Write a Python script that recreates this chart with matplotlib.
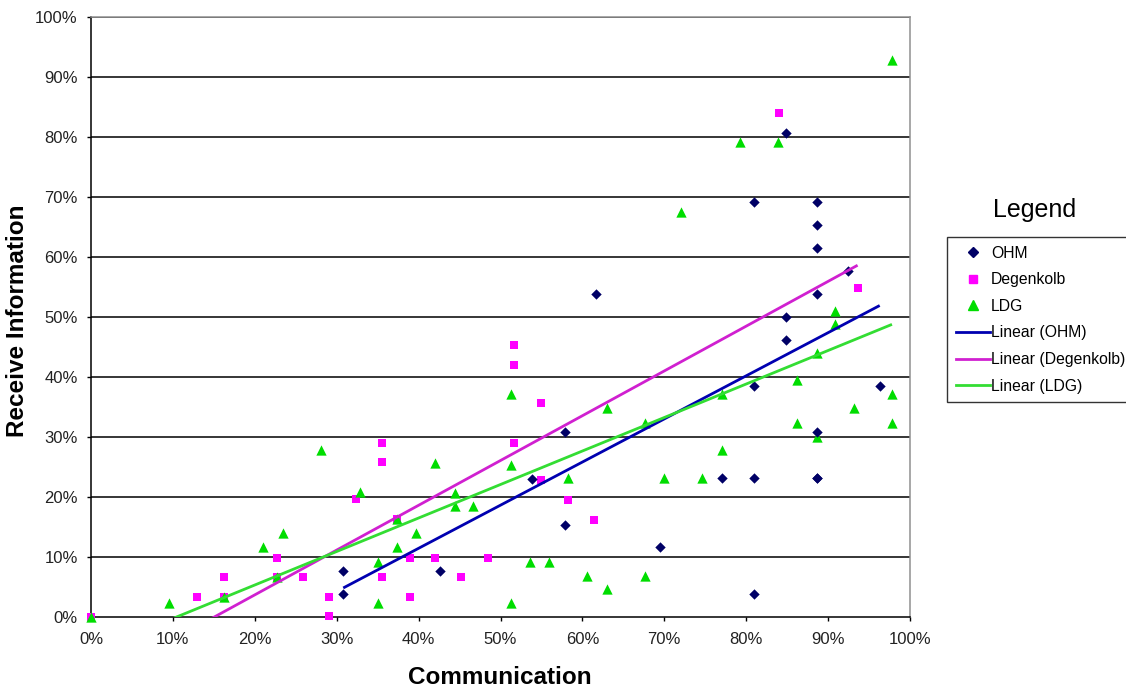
import numpy as np
import matplotlib
matplotlib.use("Agg")
import matplotlib.pyplot as plt
from matplotlib.lines import Line2D

plt.rcParams['font.family'] = ['Liberation Sans', 'DejaVu Sans']

# ---- data (percent) ----
ohm_x = [30.8, 30.8, 42.6, 53.9, 57.9, 57.9, 61.7, 69.5, 77.1, 81.0, 81.0, 81.0,
         81.0, 84.8, 84.8, 84.8, 88.7, 88.7, 88.7, 88.7, 88.7, 88.7, 88.7, 92.4, 96.3]
ohm_y = [7.6, 3.9, 7.7, 23.0, 30.8, 15.4, 53.9, 11.7, 23.1, 23.1, 38.5, 3.9,
         69.1, 80.7, 50.0, 46.2, 69.1, 65.3, 61.5, 53.9, 30.9, 23.1, 23.1, 57.7, 38.5]

deg_x = [0.0, 13.0, 16.3, 16.3, 22.7, 22.7, 25.9, 29.1, 29.1, 32.3, 35.5, 35.5,
         35.5, 37.4, 38.9, 38.9, 42.0, 45.2, 48.5, 51.7, 51.7, 51.7, 55.0, 55.0, 58.3,
         61.4, 84.0, 93.6]
deg_y = [0.0, 3.4, 6.7, 3.4, 9.9, 6.7, 6.7, 3.3, 0.2, 19.6, 29.0, 25.9,
         6.7, 16.4, 9.8, 3.4, 9.8, 6.7, 9.8, 45.3, 42.0, 29.0, 35.6, 22.8, 19.5,
         16.2, 84.0, 54.9]

ldg_x = [0.0, 9.5, 16.3, 21.0, 22.7, 23.4, 28.1, 32.8, 35.0, 35.0, 37.4, 37.4,
         39.7, 42.0, 44.4, 44.4, 46.7, 51.3, 51.3, 51.3, 53.6, 55.9, 58.3, 60.6,
         63.0, 63.0, 67.6, 67.6, 70.0, 72.1, 74.6, 77.0, 77.0, 79.3, 83.9, 86.2,
         86.2, 88.6, 88.6, 90.9, 90.9, 93.2, 97.8, 97.8, 97.8]
ldg_y = [0.0, 2.4, 3.4, 11.6, 6.7, 14.0, 27.8, 20.9, 9.2, 2.3, 11.6, 16.4,
         14.0, 25.6, 20.7, 18.5, 18.5, 37.1, 25.4, 2.3, 9.2, 9.2, 23.1, 6.9,
         4.6, 34.9, 32.4, 6.9, 23.1, 67.5, 23.1, 27.8, 37.2, 79.1, 79.1, 39.5,
         32.4, 44.0, 30.0, 51.0, 48.8, 34.8, 37.2, 32.4, 92.8]

series_names = ['OHM', 'Degenkolb', 'LDG']
x_ticks = list(range(0, 101, 10))
y_ticks = list(range(0, 101, 10))

# ---- figure ----
W, H = 1126, 691
fig = plt.figure(figsize=(W / 100, H / 100), dpi=100)
ax = fig.add_axes([91 / W, 1 - 617 / H, (910 - 91) / W, (617 - 17) / H])

ax.set_xlim(0, 100)
ax.set_ylim(0, 100)

for yv in y_ticks[1:]:
    ax.axhline(yv, color='#000000', lw=1.1, zorder=1)

c_ohm, c_deg, c_ldg = '#000066', '#FF00FF', '#00DD00'
l_ohm, l_deg, l_ldg = '#0000B0', '#D020D0', '#33DD33'

ax.scatter(ohm_x, ohm_y, marker='D', s=28, color=c_ohm, zorder=4, linewidths=0, clip_on=False)
ax.scatter(deg_x, deg_y, marker='s', s=38, color=c_deg, zorder=3, linewidths=0, clip_on=False)
ax.scatter(ldg_x, ldg_y, marker='^', s=55, color=c_ldg, zorder=3, linewidths=0, clip_on=False)

def trend(xs, ys, color):
    xs = np.array(xs); ys = np.array(ys)
    m, b = np.polyfit(xs, ys, 1)
    xx = np.array([xs.min(), xs.max()])
    ax.plot(xx, m * xx + b, color=color, lw=2, zorder=5, solid_capstyle='butt')

trend(ohm_x, ohm_y, l_ohm)
trend(deg_x, deg_y, l_deg)
trend(ldg_x, ldg_y, l_ldg)

ax.set_xticks(x_ticks)
ax.set_yticks(y_ticks)
ax.set_xticklabels([f'{v}%' for v in x_ticks])
ax.set_yticklabels([f'{v}%' for v in y_ticks])
ax.tick_params(direction='out', length=3, width=1, labelsize=12,
               colors='#000000', labelcolor='#222222')
ax.tick_params(axis='x', pad=8)
ax.tick_params(axis='y', pad=6.5)

for s in ['left', 'bottom']:
    ax.spines[s].set_color('#000000')
    ax.spines[s].set_linewidth(1.1)
for s in ['right', 'top']:
    ax.spines[s].set_color('#909090')
    ax.spines[s].set_linewidth(1.1)

fig.text(500 / W, 1 - 677 / H, 'Communication', fontsize=17.5, fontweight='bold',
         ha='center', va='center')
fig.text(18 / W, 1 - 321 / H, 'Receive Information', fontsize=17.5, fontweight='bold',
         ha='center', va='center', rotation=90)

# legend
handles = [
    Line2D([], [], ls='none', marker='D', ms=5, color=c_ohm),
    Line2D([], [], ls='none', marker='s', ms=6, color=c_deg),
    Line2D([], [], ls='none', marker='^', ms=7, color=c_ldg),
    Line2D([], [], color=l_ohm, lw=2),
    Line2D([], [], color=l_deg, lw=2),
    Line2D([], [], color=l_ldg, lw=2),
]
labels = series_names + [f'Linear ({n})' for n in series_names]
leg = fig.legend(handles, labels, loc='upper left',
                 bbox_to_anchor=(947 / W, 1 - 237 / H), borderaxespad=0,
                 fontsize=11.3, frameon=True, fancybox=False, handlelength=2.17,
                 handletextpad=0.07, labelspacing=0.74, borderpad=0.55)
leg.get_frame().set_edgecolor('#000000')
leg.get_frame().set_linewidth(1.0)
fig.text(1035 / W, 1 - 210 / H, 'Legend', fontsize=18, ha='center', va='center')

fig.savefig('out.png', dpi=100)
